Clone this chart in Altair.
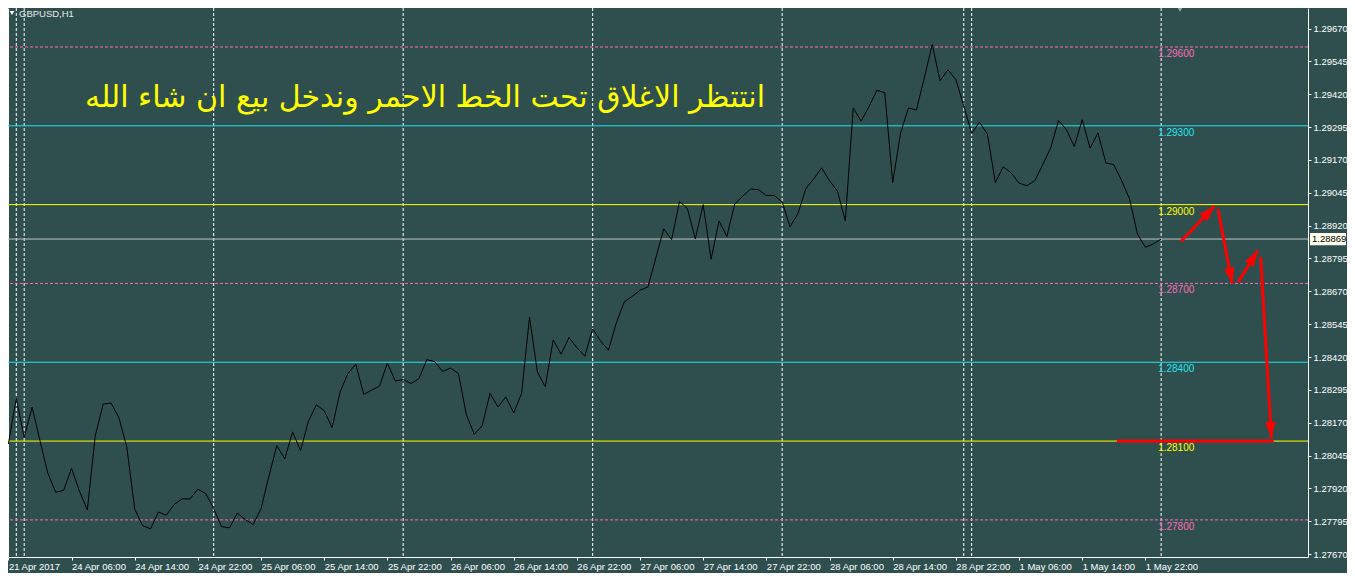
import json
import math
import altair as alt
import pandas as pd

# ---------------- data ----------------
symbol_label = "GBPUSD,H1"
note = "انتتظر الاغلاق تحت الخط الاحمر وندخل بيع ان شاء الله"

# hourly closes, one per bar (bar 0 = 21 Apr 2017 22:00, weekend bars absent)
close = [
    1.28089, 1.28263, 1.28114, 1.28229, 1.28102, 1.27977, 1.27905, 1.27913, 1.27996, 1.27909,
    1.27838, 1.28120, 1.28241, 1.28245, 1.28189, 1.28077, 1.27841, 1.27778, 1.27766, 1.27830,
    1.27818, 1.27859, 1.27880, 1.27880, 1.27917, 1.27900, 1.27843, 1.27774, 1.27770, 1.27826,
    1.27801, 1.27782, 1.27843, 1.27967, 1.28083, 1.28032, 1.28135, 1.28064, 1.28176, 1.28238,
    1.28216, 1.28151, 1.28286, 1.28357, 1.28393, 1.28278, 1.28294, 1.28309, 1.28397, 1.28329,
    1.28334, 1.28319, 1.28338, 1.28410, 1.28402, 1.28365, 1.28378, 1.28357, 1.28201, 1.28126,
    1.28158, 1.28282, 1.28230, 1.28268, 1.28207, 1.28282, 1.28572, 1.28363, 1.28307, 1.28485,
    1.28431, 1.28494, 1.28456, 1.28423, 1.28527, 1.28481, 1.28446, 1.28550, 1.28630, 1.28651,
    1.28674, 1.28687, 1.28797, 1.28908, 1.28867, 1.29012, 1.28985, 1.28870, 1.29000, 1.28792,
    1.28938, 1.28879, 1.29003, 1.29032, 1.29059, 1.29057, 1.29035, 1.29035, 1.29010, 1.28916,
    1.28966, 1.29061, 1.29098, 1.29140, 1.29091, 1.29052, 1.28938, 1.29368, 1.29318, 1.29373,
    1.29435, 1.29426, 1.29084, 1.29273, 1.29368, 1.29360, 1.29482, 1.29609, 1.29472, 1.29513,
    1.29476, 1.29376, 1.29271, 1.29314, 1.29268, 1.29084, 1.29144, 1.29121, 1.29082, 1.29072,
    1.29091, 1.29152, 1.29215, 1.29320, 1.29286, 1.29221, 1.29323, 1.29215, 1.29273, 1.29159,
    1.29152, 1.29091, 1.29022, 1.28888, 1.28838, 1.28850, 1.28869,
]

# time labels, one every 8 bars starting at bar 0
x_tick_labels = [
    "21 Apr 2017", "24 Apr 06:00", "24 Apr 14:00", "24 Apr 22:00", "25 Apr 06:00",
    "25 Apr 14:00", "25 Apr 22:00", "26 Apr 06:00", "26 Apr 14:00", "26 Apr 22:00",
    "27 Apr 06:00", "27 Apr 14:00", "27 Apr 22:00", "28 Apr 06:00", "28 Apr 14:00",
    "28 Apr 22:00", "1 May 06:00", "1 May 14:00", "1 May 22:00",
]
bars_per_label = 8

y_tick_values = [
    1.27670, 1.27795, 1.27920, 1.28045, 1.28170, 1.28295, 1.28420, 1.28545, 1.28670,
    1.28795, 1.28920, 1.29045, 1.29170, 1.29295, 1.29420, 1.29545, 1.29670,
]

# period separators (bar indices)
separator_bars = [1, 2, 26, 50, 74, 98, 121, 122, 146]

pink_levels = [1.29600, 1.28700, 1.27800]
cyan_levels = [1.29300, 1.28400]
yellow_levels = [1.29000, 1.28100]
bid_price = 1.28869

# hand-drawn red arrows (bar index, price)
arrow_x1 = [148.5, 153.2, 155.75, 158.6]
arrow_y1 = [1.28860, 1.28983, 1.28705, 1.28801]
arrow_x2 = [152.75, 155.0, 158.25, 159.96]
arrow_y2 = [1.28995, 1.28699, 1.28826, 1.28112]
target_x1 = [140.4]
target_x2 = [160.25]
target_y = [1.28100]

# ---------------- layout / style ----------------
W, H = 1300, 549
PAD = {"left": 0, "top": 0, "right": 39, "bottom": 16}
X_DOM = [-0.05, 164.6]
Y_DOM = [1.276588, 1.297484]
BG = "#2F4F4F"
PINK = "#FF69B4"
CYAN = "#22E5EE"
YELLOW = "#FFFF00"
SILVER = "#C0C0C0"
RED = "#FF0000"
FONT = "Liberation Sans"

xs = alt.Scale(domain=X_DOM, nice=False, zero=False)
ys = alt.Scale(domain=Y_DOM, nice=False, zero=False)


def X(field):
    return alt.X(field, type="quantitative", scale=xs, axis=None)


def Y(field, axis=None):
    return alt.Y(field, type="quantitative", scale=ys, axis=axis)


line_df = pd.DataFrame({"bar": list(range(len(close))), "close": close})
sep_df = pd.DataFrame({"bar": separator_bars})
last_bar = len(close) - 1
pink_df = pd.DataFrame({"level": pink_levels, "bar": [last_bar] * len(pink_levels)})
cyan_df = pd.DataFrame({"level": cyan_levels, "bar": [last_bar] * len(cyan_levels)})
yellow_df = pd.DataFrame({"level": yellow_levels, "bar": [last_bar] * len(yellow_levels)})
bid_df = pd.DataFrame({"level": [bid_price], "txt": [f"{bid_price:.5f}"]})

sx = W / (X_DOM[1] - X_DOM[0])
sy = H / (Y_DOM[1] - Y_DOM[0])
angles = [
    (math.degrees(math.atan2((b - a) * sx, (d - c) * sy)) + 360) % 360
    for a, b, c, d in zip(arrow_x1, arrow_x2, arrow_y1, arrow_y2)
]
arrow_df = pd.DataFrame({"x1": arrow_x1, "y1": arrow_y1, "x2": arrow_x2, "y2": arrow_y2, "ang": angles})
target_df = pd.DataFrame({"x1": target_x1, "x2": target_x2, "y": target_y})

tick_bars = [k * bars_per_label for k in range(len(x_tick_labels))]
label_expr = json.dumps(x_tick_labels) + f"[round(datum.value / {bars_per_label})]"

# ---------------- layers ----------------
separators = alt.Chart(sep_df).mark_rule(color="white", strokeDash=[3, 2], strokeWidth=1).encode(x=X("bar"))


def level_lines(df, color, dash=None):
    kw = dict(color=color, strokeWidth=1)
    if dash:
        kw["strokeDash"] = dash
    return alt.Chart(df).mark_rule(**kw).encode(y=Y("level"))


def level_labels(df, color):
    return alt.Chart(df).mark_text(
        align="left", baseline="top", dx=-3, dy=2, font=FONT, fontSize=10, color=color
    ).encode(x=X("bar"), y=Y("level"), text=alt.Text("level:Q", format=".5f"))


bid_line = alt.Chart(bid_df).mark_rule(color=SILVER, strokeWidth=1).encode(
    y=Y("level", axis=alt.Axis(orient="left", labels=False, ticks=False, grid=False,
                               domainColor="white", domainWidth=1, title=None))
)

price = alt.Chart(line_df).mark_line(color="black", strokeWidth=1).encode(
    x=alt.X("bar:Q", scale=xs, axis=alt.Axis(
        orient="bottom", values=tick_bars, labelExpr=label_expr, grid=False, title=None,
        domainColor="white", tickColor="white", tickSize=3, labelColor="white",
        labelFont=FONT, labelFontSize=9.5, labelAlign="left", labelBaseline="top",
        labelPadding=1, labelFlush=False, labelOverlap=False, labelBound=False)),
    y=alt.Y("close:Q", scale=ys, axis=alt.Axis(
        orient="right", values=y_tick_values, format=".5f", grid=False, title=None,
        domainColor="white", tickColor="white", tickSize=3, labelColor="white",
        labelFont=FONT, labelFontSize=9.5, labelPadding=2, labelFlush=False,
        labelOverlap=False, labelBound=False)),
)

arrow_lines = alt.Chart(arrow_df).mark_rule(color=RED, strokeWidth=3).encode(
    x=X("x1"), y=Y("y1"), x2="x2:Q", y2="y2:Q"
)
arrow_heads = alt.Chart(arrow_df).mark_point(
    shape="M0,0L0.65,2L-0.65,2Z", size=256, filled=True, color=RED, opacity=1, strokeWidth=0
).encode(x=X("x2"), y=Y("y2"), angle=alt.Angle("ang:Q", scale=None))
target_line = alt.Chart(target_df).mark_rule(color=RED, strokeWidth=3).encode(
    x=X("x1"), x2="x2:Q", y=Y("y")
)

note_layer = alt.Chart(pd.DataFrame({"t": [note]})).mark_text(
    font="DejaVu Sans", fontSize=30, color=YELLOW, align="center", baseline="middle"
).encode(x=alt.value(417), y=alt.value(90), text="t:N")

sym_layer = alt.Chart(pd.DataFrame({"t": [symbol_label]})).mark_text(
    font=FONT, fontSize=9.5, color="#E8E8E8", align="left", baseline="middle"
).encode(x=alt.value(11), y=alt.value(6), text="t:N")
sym_tri = alt.Chart(pd.DataFrame({"t": [symbol_label]})).mark_point(
    shape="triangle-down", size=22, filled=True, color="white", opacity=1
).encode(x=alt.value(4), y=alt.value(5))
shift_tri = alt.Chart(pd.DataFrame({"t": [symbol_label]})).mark_point(
    shape="triangle-down", size=40, filled=True, color="#A8A8A8", opacity=1
).encode(x=alt.value(1172), y=alt.value(1))

bid_box = alt.Chart(bid_df).mark_point(
    shape="M-1,-0.34L1,-0.34L1,0.34L-1,0.34Z", size=1296, filled=True, color="#FFFFF0",
    opacity=1, strokeWidth=0
).encode(x=alt.value(W + 20), y=Y("level"))
bid_text = alt.Chart(bid_df).mark_text(
    font=FONT, fontSize=9.5, color="black", align="left", baseline="middle"
).encode(x=alt.value(W + 4), y=Y("level"), text="txt:N")

chart = alt.layer(
    separators,
    level_lines(pink_df, PINK, [3, 2]),
    level_lines(cyan_df, CYAN),
    level_lines(yellow_df, YELLOW),
    bid_line,
    level_labels(pink_df, PINK),
    level_labels(cyan_df, CYAN),
    level_labels(yellow_df, YELLOW),
    price,
    target_line,
    arrow_lines,
    arrow_heads,
    note_layer,
    sym_tri,
    sym_layer,
    shift_tri,
    bid_box,
    bid_text,
).resolve_axis(x="independent", y="independent").properties(
    width=W, height=H,
    padding=PAD,
    autosize=alt.AutoSizeParams(type="none"),
    background=BG,
).configure_view(stroke=None)

chart.save("out.html", embed_options={"renderer": "svg", "actions": False})
